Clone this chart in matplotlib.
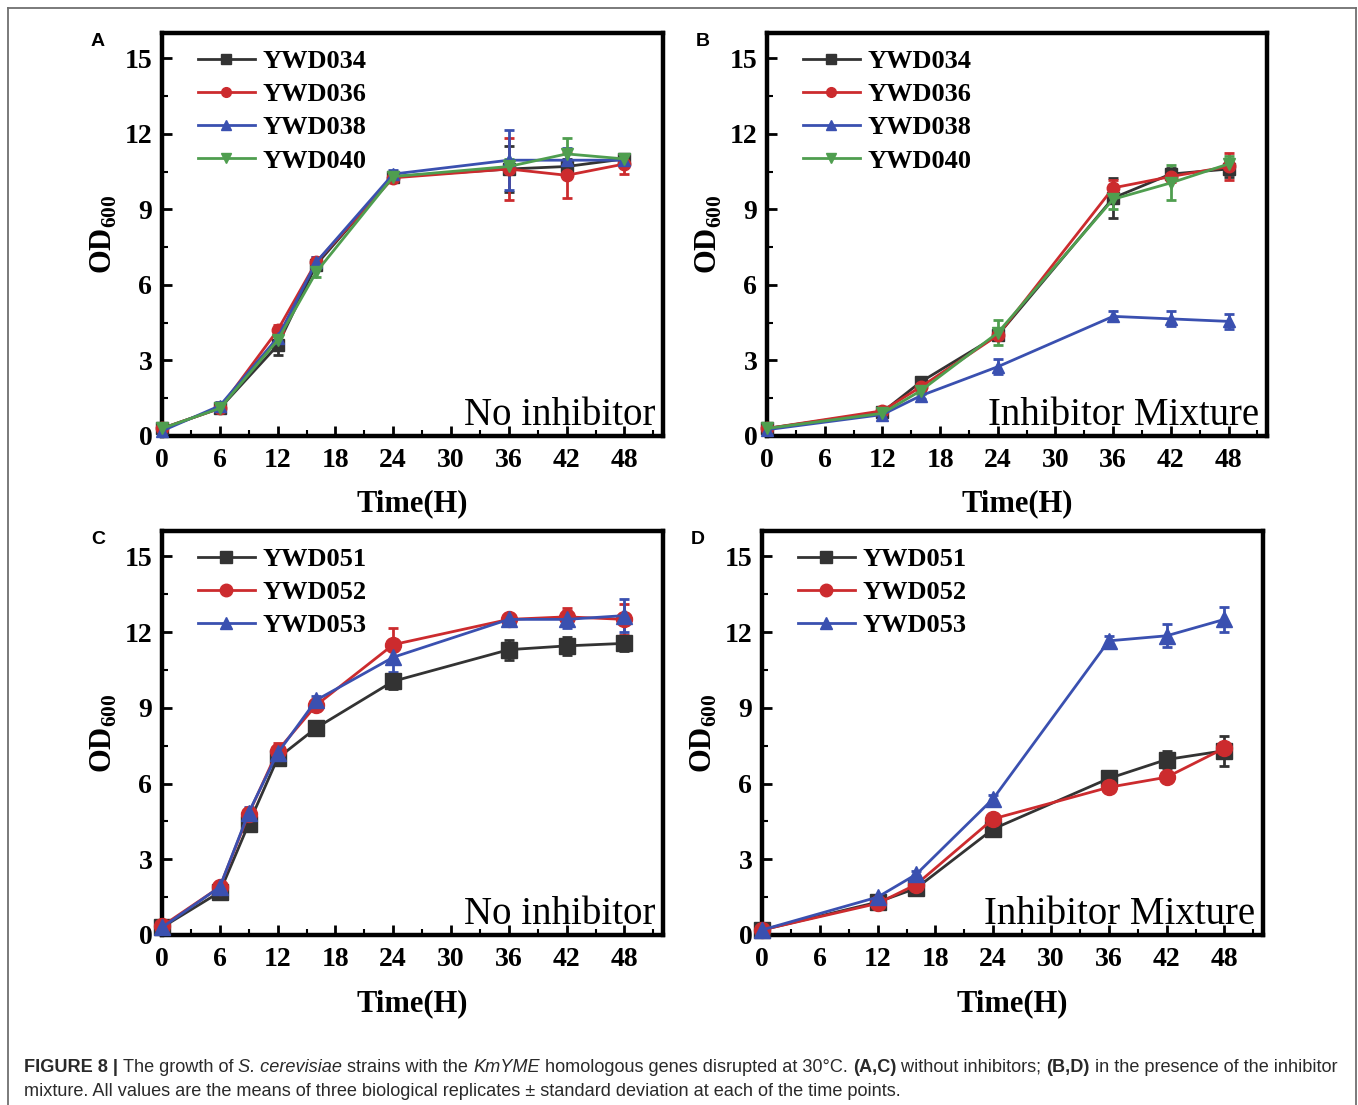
import matplotlib
matplotlib.use("Agg")
import matplotlib.pyplot as plt
from matplotlib.lines import Line2D
from matplotlib.ticker import MultipleLocator
from matplotlib.transforms import IdentityTransform

plt.rcParams['font.family'] = 'Liberation Serif'
plt.rcParams['mathtext.fontset'] = 'custom'
plt.rcParams['mathtext.rm'] = 'Liberation Serif:bold'
plt.rcParams['mathtext.bf'] = 'Liberation Serif:bold'

W, H = 1358, 1105

# sampling times (hours)
time_a = [0, 6, 12, 16, 24, 36, 42, 48]
time_b = [0, 12, 16, 24, 36, 42, 48]
time_c = [0, 6, 9, 12, 16, 24, 36, 42, 48]
time_d = [0, 12, 16, 24, 36, 42, 48]

# A: no inhibitor
a_034 = [0.3, 1.1, 3.6, 6.8, 10.3, 10.6, 10.7, 11.0]
a_034_sd = [0.05, 0.15, 0.4, 0.2, 0.15, 0.9, 0.3, 0.2]
a_036 = [0.3, 1.1, 4.2, 6.9, 10.25, 10.6, 10.35, 10.8]
a_036_sd = [0.05, 0.1, 0.2, 0.2, 0.15, 1.25, 0.9, 0.4]
a_038 = [0.2, 1.2, 3.9, 6.9, 10.4, 10.95, 10.95, 10.95]
a_038_sd = [0.05, 0.15, 0.2, 0.2, 0.15, 1.2, 0.5, 0.25]
a_040 = [0.3, 1.1, 3.8, 6.5, 10.3, 10.7, 11.2, 11.0]
a_040_sd = [0.05, 0.1, 0.2, 0.2, 0.15, 0.3, 0.65, 0.2]

# B: inhibitor mixture
b_034 = [0.3, 0.95, 2.15, 4.0, 9.45, 10.4, 10.6]
b_034_sd = [0.05, 0.1, 0.15, 0.2, 0.8, 0.25, 0.3]
b_036 = [0.3, 1.0, 1.95, 4.0, 9.85, 10.3, 10.7]
b_036_sd = [0.05, 0.1, 0.15, 0.2, 0.3, 0.2, 0.55]
b_038 = [0.25, 0.85, 1.6, 2.75, 4.75, 4.65, 4.55]
b_038_sd = [0.05, 0.1, 0.15, 0.3, 0.2, 0.3, 0.3]
b_040 = [0.3, 0.9, 1.8, 4.1, 9.4, 10.05, 10.8]
b_040_sd = [0.05, 0.15, 0.15, 0.5, 0.4, 0.7, 0.3]

# C: no inhibitor
c_051 = [0.3, 1.7, 4.4, 7.0, 8.2, 10.05, 11.3, 11.45, 11.55]
c_051_sd = [0.05, 0.15, 0.15, 0.2, 0.15, 0.3, 0.4, 0.35, 0.3]
c_052 = [0.35, 1.9, 4.8, 7.3, 9.1, 11.5, 12.5, 12.6, 12.5]
c_052_sd = [0.05, 0.15, 0.2, 0.3, 0.15, 0.65, 0.2, 0.35, 0.6]
c_053 = [0.3, 1.9, 4.85, 7.2, 9.3, 11.0, 12.5, 12.5, 12.65]
c_053_sd = [0.05, 0.15, 0.2, 0.2, 0.15, 0.6, 0.2, 0.35, 0.65]

# D: inhibitor mixture
d_051 = [0.2, 1.3, 1.85, 4.2, 6.2, 6.95, 7.3]
d_051_sd = [0.05, 0.1, 0.15, 0.15, 0.15, 0.35, 0.6]
d_052 = [0.2, 1.25, 2.0, 4.6, 5.85, 6.25, 7.4]
d_052_sd = [0.05, 0.1, 0.1, 0.15, 0.15, 0.15, 0.15]
d_053 = [0.2, 1.5, 2.4, 5.4, 11.65, 11.85, 12.5]
d_053_sd = [0.05, 0.1, 0.15, 0.15, 0.2, 0.45, 0.5]

BLACK, RED, BLUE, GREEN = '#333333', '#cc2b2e', '#3a50b0', '#4f9e4f'

fig = plt.figure(figsize=(W / 100, H / 100), dpi=100)


def px_axes(l, t, r, b):
    return fig.add_axes([l / W, 1 - b / H, (r - l) / W, (b - t) / H])


def panel(box, times, series, note, letter, msize, leg_msize):
    ax = px_axes(*box)
    handles = []
    for label, vals, sd, color, marker in series:
        ax.errorbar(times, vals, yerr=sd, color=color, marker=marker,
                    markersize=msize, lw=2.0, elinewidth=2.0, capsize=3.6,
                    capthick=2.0, clip_on=False, zorder=3)
        handles.append(Line2D([], [], color=color, marker=marker, lw=2.0,
                              markersize=leg_msize, label=label))
    ax.set_xlim(0, 52)
    ax.set_ylim(0, 16)
    ax.xaxis.set_minor_locator(MultipleLocator(3))
    ax.yaxis.set_minor_locator(MultipleLocator(1.5))
    ax.set_xticks(range(0, 49, 6))
    ax.set_yticks(range(0, 16, 3))
    ax.tick_params(which='major', direction='in', length=7, width=2,
                   labelsize=20, pad=7)
    ax.tick_params(axis='x', which='major', pad=9)
    ax.tick_params(which='minor', direction='in', length=4, width=1.5)
    for lab in ax.get_xticklabels() + ax.get_yticklabels():
        lab.set_fontweight('bold')
    for sp in ax.spines.values():
        sp.set_linewidth(3.2)
    ax.set_xlabel('Time(H)', fontsize=22, fontweight='bold')
    ax.set_ylabel(r'OD$_{\mathbf{600}}$', fontsize=22, fontweight='bold')
    ax.xaxis.set_label_coords(0.5, -0.133)
    ax.yaxis.set_label_coords(-0.085, 0.5)
    ax.legend(handles=handles, loc='upper left', bbox_to_anchor=(0.035, 1.005),
              frameon=False, handlelength=2.15, handletextpad=0.3,
              labelspacing=0.37, borderaxespad=0.3,
              prop={'weight': 'bold', 'size': 19})
    ax.text(0.985, 0.027, note, transform=ax.transAxes, ha='right',
            va='baseline', fontsize=28)
    fig.text((box[0] - 64) / W, 1 - (box[1] + 9) / H, letter,
             family='Liberation Sans', fontweight='bold', fontsize=14,
             ha='center', va='center')
    return ax


panel((162, 33, 663, 436), time_a,
      [('YWD034', a_034, a_034_sd, BLACK, 's'),
       ('YWD036', a_036, a_036_sd, RED, 'o'),
       ('YWD038', a_038, a_038_sd, BLUE, '^'),
       ('YWD040', a_040, a_040_sd, GREEN, 'v')],
      'No inhibitor', 'A', 9, 7)
panel((767, 33, 1267, 436), time_b,
      [('YWD034', b_034, b_034_sd, BLACK, 's'),
       ('YWD036', b_036, b_036_sd, RED, 'o'),
       ('YWD038', b_038, b_038_sd, BLUE, '^'),
       ('YWD040', b_040, b_040_sd, GREEN, 'v')],
      'Inhibitor Mixture', 'B', 9, 7)
panel((162, 531, 663, 935), time_c,
      [('YWD051', c_051, c_051_sd, BLACK, 's'),
       ('YWD052', c_052, c_052_sd, RED, 'o'),
       ('YWD053', c_053, c_053_sd, BLUE, '^')],
      'No inhibitor', 'C', 11.5, 9)
panel((762, 531, 1263, 935), time_d,
      [('YWD051', d_051, d_051_sd, BLACK, 's'),
       ('YWD052', d_052, d_052_sd, RED, 'o'),
       ('YWD053', d_053, d_053_sd, BLUE, '^')],
      'Inhibitor Mixture', 'D', 11.5, 9)

# outer frame around figure and caption
for xs, ys in [((8, 8), (0, H - 8)), ((1356, 1356), (0, H - 8)),
               ((8, 1356), (H - 8, H - 8))]:
    fig.add_artist(Line2D([x / W for x in xs], [y / H for y in ys],
                          color='#707070', lw=1.3, transform=fig.transFigure))

# caption, drawn run by run so mixed styles sit on one baseline
renderer = fig.canvas.get_renderer()


def caption_line(x, y, runs, size=13.1):
    for txt, style in runs:
        t = fig.text(x, H - y, txt, transform=IdentityTransform(),
                     family='Liberation Sans', fontsize=size,
                     fontweight='bold' if 'b' in style else 'normal',
                     fontstyle='italic' if 'i' in style else 'normal',
                     color='#2a2a2a', va='baseline')
        x += t.get_window_extent(renderer).width


caption_line(24, 1072, [
    ('FIGURE 8 | ', 'b'), ('The growth of ', ''), ('S. cerevisiae', 'i'),
    (' strains with the ', ''), ('KmYME', 'i'),
    (' homologous genes disrupted at 30°C. ', ''), ('(A,C)', 'b'),
    (' without inhibitors; ', ''), ('(B,D)', 'b'),
    (' in the presence of the inhibitor', '')])
caption_line(24, 1096, [
    ('mixture. All values are the means of three biological replicates '
     '± standard deviation at each of the time points.', '')])

fig.savefig('out.png', dpi=100)
